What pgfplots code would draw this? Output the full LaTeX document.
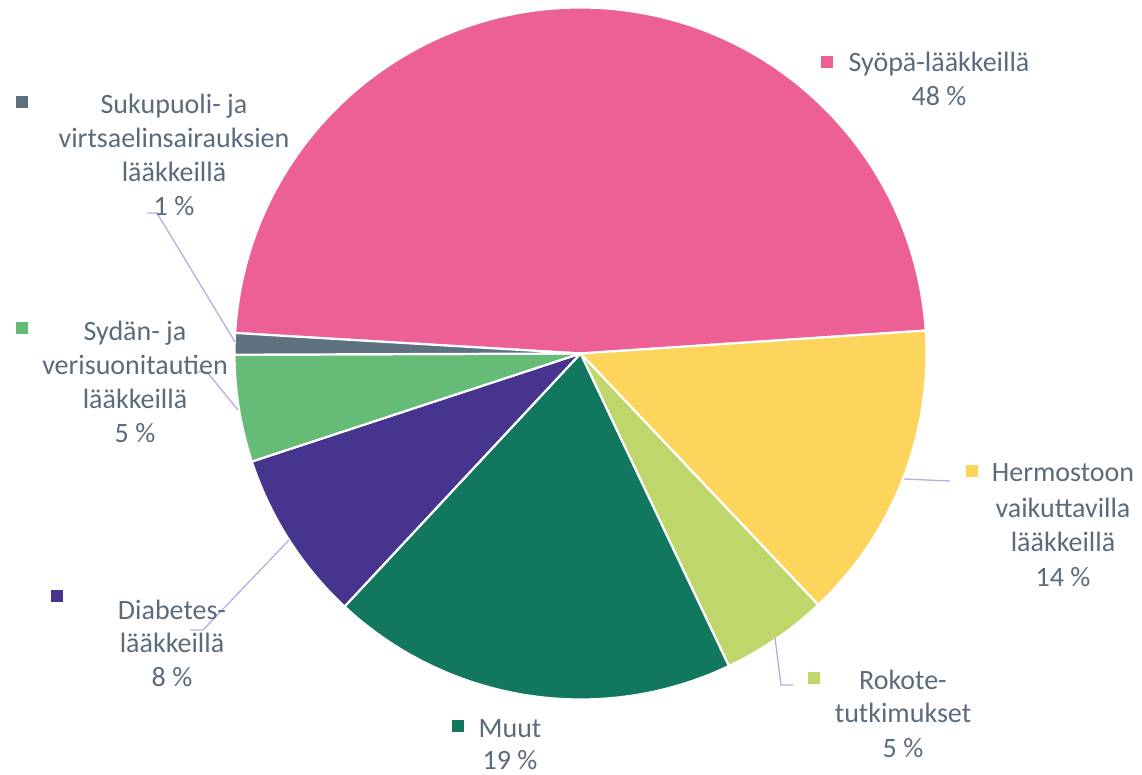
\documentclass[border=0pt]{standalone}
\usepackage{pgfplots}
\pgfplotsset{compat=1.18}
\usepackage{fontspec}
\setmainfont{Carlito}
\definecolor{cSy}{HTML}{EC6096}
\definecolor{cHe}{HTML}{FDD55C}
\definecolor{cRo}{HTML}{BED66A}
\definecolor{cMu}{HTML}{12775F}
\definecolor{cDi}{HTML}{46348E}
\definecolor{cSd}{HTML}{66BB77}
\definecolor{cSu}{HTML}{5E7180}
\definecolor{txt}{HTML}{5A6B7B}
\definecolor{lead}{HTML}{B8ACE0}
\newcommand\lblfont{\fontsize{28}{34}\selectfont}
% line of label text: x, baseline y (px from top), text
\newcommand\lblline[3]{\node[anchor=base,font=\lblfont,text=txt,inner sep=0pt] at (axis cs:#1,{774-#2}) {#3};}
% legend key square: centre x, centre y (px from top), colour
\newcommand\lblkey[3]{\fill[#3] (axis cs:{#1-6},{774-#2-6}) rectangle (axis cs:{#1+6},{774-#2+6});}
\begin{document}
\begin{tikzpicture}
\begin{axis}[width=1142pt,height=774pt,scale only axis,
  xmin=0,xmax=1142,ymin=0,ymax=774,hide axis,clip=false]
\addplot[draw=none] coordinates {(0,0) (1142,774)};
% pie slices: value (percent) / colour, clockwise from 176.6 degrees
\gdef\curang{176.6}
\foreach \v/\c in {48/cSy,14/cHe,5/cRo,19/cMu,8/cDi,5/cSd,1/cSu} {
  \pgfmathsetmacro\angA{\curang}
  \pgfmathsetmacro\angB{\curang-3.6*\v}
  \edef\temp{\noexpand\fill[fill=\c,draw=white,line width=2.2pt,line join=round]
    (axis cs:580.5,420.5) -- ++(\angA:346pt) arc[start angle=\angA,end angle=\angB,radius=346pt] -- cycle;}
  \temp
  \global\let\curang\angB
}
% leader lines
\draw[lead,line width=1.3pt] (axis cs:147,561) -- (axis cs:157,561) -- (axis cs:235,432);
\draw[lead,line width=1.3pt] (axis cs:197,402) -- (axis cs:207,402) -- (axis cs:238,364);
\draw[lead,line width=1.3pt] (axis cs:190,144) -- (axis cs:203,144) -- (axis cs:289,234);
\draw[lead,line width=1.3pt] (axis cs:904,295) -- (axis cs:950,293);
\draw[lead,line width=1.3pt] (axis cs:775,136) -- (axis cs:781,89) -- (axis cs:793,89);
% legend keys
\lblkey{827}{62}{cSy}
\lblkey{21.5}{102.5}{cSu}
\lblkey{22}{328.5}{cSd}
\lblkey{57}{596}{cDi}
\lblkey{971.5}{471.5}{cHe}
\lblkey{814}{677.5}{cRo}
\lblkey{457.5}{726}{cMu}
% labels
\lblline{939}{72}{Syöpä-lääkkeillä}
\lblline{939}{106}{48 \%}
\lblline{174}{114}{Sukupuoli- ja}
\lblline{174}{148}{virtsaelinsairauksien}
\lblline{174}{182}{lääkkeillä}
\lblline{174}{216}{1 \%}
\lblline{135}{341}{Sydän- ja}
\lblline{135}{375}{verisuonitautien}
\lblline{135}{409}{lääkkeillä}
\lblline{135}{443}{5 \%}
\lblline{172}{619}{Diabetes-}
\lblline{172}{652}{lääkkeillä}
\lblline{172}{686}{8 \%}
\lblline{1063}{482}{Hermostoon}
\lblline{1063}{517}{vaikuttavilla}
\lblline{1063}{551}{lääkkeillä}
\lblline{1063}{586}{14 \%}
\lblline{903}{689}{Rokote-}
\lblline{903}{722}{tutkimukset}
\lblline{903}{757}{5 \%}
\lblline{510}{737}{Muut}
\lblline{510}{769}{19 \%}
\end{axis}
\pgfresetboundingbox
\path[use as bounding box] (current axis.south west) rectangle (current axis.north east);
\end{tikzpicture}
\end{document}
